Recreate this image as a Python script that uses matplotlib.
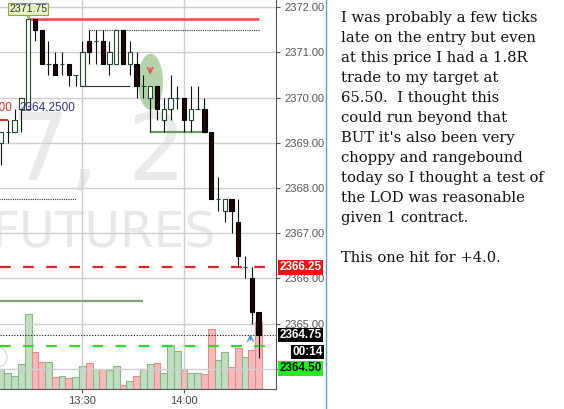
import numpy as np
import matplotlib
matplotlib.use('Agg')
import matplotlib.pyplot as plt
import matplotlib.transforms as mtransforms
from matplotlib.patches import Ellipse
from matplotlib.lines import Line2D

# ES 2 minute bars (13:06 .. 14:22)
opens = [2369.00, 2369.25, 2369.25, 2369.75, 2369.75, 2371.75, 2371.50, 2370.75, 2370.75, 2370.75,
         2370.75, 2370.50, 2370.25, 2371.25, 2371.25, 2371.25, 2370.75, 2370.75, 2371.50, 2370.75,
         2370.75, 2370.25, 2370.00, 2370.25, 2369.50, 2369.75, 2370.00, 2370.00, 2369.50, 2369.75,
         2369.75, 2369.25, 2367.75, 2367.50, 2367.75, 2367.25, 2366.25, 2366.00, 2365.25]
highs = [2369.25, 2369.50, 2369.75, 2370.00, 2371.75, 2371.75, 2371.50, 2371.25, 2371.00, 2371.00,
         2370.75, 2370.50, 2371.25, 2371.50, 2371.50, 2371.50, 2371.25, 2371.50, 2371.50, 2371.25,
         2371.00, 2370.50, 2370.25, 2370.25, 2370.00, 2370.50, 2370.25, 2370.00, 2370.25, 2370.25,
         2370.00, 2369.25, 2368.25, 2367.75, 2367.75, 2367.75, 2366.50, 2366.25, 2365.25]
lows = [2368.50, 2369.00, 2369.25, 2369.25, 2369.75, 2371.25, 2370.75, 2370.50, 2370.50, 2370.50,
        2370.25, 2370.25, 2370.25, 2370.75, 2370.75, 2370.75, 2370.50, 2370.75, 2370.75, 2370.50,
        2370.00, 2370.00, 2369.25, 2369.50, 2369.25, 2369.50, 2369.75, 2369.25, 2369.25, 2369.75,
        2369.25, 2367.75, 2367.50, 2367.25, 2367.00, 2366.25, 2366.00, 2365.00, 2364.25]
closes = [2369.25, 2369.25, 2369.50, 2370.00, 2371.75, 2371.50, 2370.75, 2370.75, 2370.50, 2370.75,
          2370.50, 2370.50, 2371.00, 2371.00, 2371.25, 2370.75, 2371.00, 2371.50, 2370.75, 2371.00,
          2370.25, 2370.25, 2370.25, 2369.75, 2369.75, 2370.00, 2370.00, 2369.50, 2369.75, 2369.75,
          2369.25, 2367.75, 2367.75, 2367.75, 2367.50, 2366.50, 2366.25, 2365.25, 2364.75]
volume = [200, 160, 130, 250, 750, 370, 270, 270, 120, 130,
          110, 120, 230, 260, 200, 200, 190, 230, 40, 80,
          130, 200, 250, 260, 160, 440, 380, 190, 160, 160,
          150, 600, 290, 370, 220, 410, 320, 390, 670]

time_ticks = [12, 27]
time_labels = ['13:30', '14:00']
price_ticks = [2364, 2365, 2366, 2367, 2368, 2369, 2370, 2371, 2372]

# drawn levels: (first bar, last bar, price)
high_line = (4, 38, 2371.75)
top_range = (13, 38, 2371.50)
mid_range = (12, 19, 2370.25)
low_range = (22, 30, 2369.25)
left_level = (-1, 11, 2367.75)
target_line = (-1, 21, 2365.50)
entry_tag = (-1, 1, 2369.50)
stop_price = 2366.25
last_price = 2364.75
bid_price = 2364.50
countdown = '00:14'
session_high = 2371.75

note_lines = ["I was probably a few ticks",
              "late on the entry but even",
              "at this price I had a 1.8R",
              "trade to my target at",
              "65.50.  I thought this",
              "could run beyond that",
              "BUT it's also been very",
              "choppy and rangebound",
              "today so I thought a test of",
              "the LOD was reasonable",
              "given 1 contract.",
              "",
              "This one hit for +4.0."]

x = np.arange(len(opens))
o = np.array(opens); c = np.array(closes)
up = c >= o

W, H = 564, 409
fig = plt.figure(figsize=(W / 100, H / 100), dpi=100)
rect = [0, 20 / H, 276 / W, 389 / H]
ax_vol = fig.add_axes(rect)
ax = fig.add_axes(rect)
ax.set_zorder(2)
ax.patch.set_alpha(0)

# volume overlay at the bottom of the price panel
ax_vol.bar(x, volume, width=1.0,
           color=np.where(up, '#bfdfbf', '#f8b9b9'),
           edgecolor=np.where(up, '#86b886', '#e58d8d'), lw=0.8, zorder=2)
ax_vol.set_ylim(0, 3890)
ax_vol.set_xlim(-0.15, 40.56)
ax_vol.axis('off')
ax_vol.text(186 / 276, 1 - 180 / 389, '7, 2', transform=ax_vol.transAxes, ha='right',
            va='baseline', fontsize=66, color='#eaeaea', zorder=0)
ax_vol.text(216 / 276, 1 - 248 / 389, 'FUTURES', transform=ax_vol.transAxes, ha='right',
            va='baseline', fontsize=35, color='#e8e8e8', zorder=0)

ax.set_xlim(-0.15, 40.56)
ax.set_ylim(2363.555, 2372.16)
ax.grid(color='#cfcfcf', lw=1)
ax.set_axisbelow(True)

# setup marker
ax.add_patch(Ellipse((22.05, 2370.35), 3.7, 1.24, fc='#a3c994', ec='none', alpha=0.8, zorder=1))

for (a, b, p), col, lw, ls in [(high_line, '#e25d5d', 2.0, '-'),
                              (top_range, '#333333', 0.8, (0, (1, 1))),
                              (mid_range, '#333333', 0.8, '-'),
                              (low_range, '#6a9e62', 1.6, '-'),
                              (left_level, '#333333', 0.8, (0, (1, 1))),
                              (target_line, '#7aa66f', 1.6, '-'),
                              (entry_tag, '#e03030', 1.4, '-')]:
    ax.plot([a, b], [p, p], color=col, lw=lw, ls=ls, zorder=2, solid_capstyle='butt')

ax.axhline(stop_price, color='#e52222', lw=1.6, dashes=(4.8, 5.6), zorder=2)
ax.axhline(bid_price, color='#2bdc2b', lw=1.6, dashes=(4.8, 5.6), zorder=2)
ax.axhline(last_price, color='#111111', lw=0.8, ls=(0, (1, 1.5)), zorder=2)

# candles
ax.vlines(x, lows, highs, color='#111111', lw=0.8, zorder=3)
body_lo = np.minimum(o, c)
body_h = np.abs(c - o)
ax.bar(x, body_h, bottom=body_lo, width=0.64,
       color=np.where(up, 'white', '#1d0808'),
       edgecolor=np.where(up, '#23472a', '#000000'), lw=0.8, zorder=4)

ax.annotate('', xy=(22, 2370.45), xytext=(22, 2370.72),
            arrowprops=dict(arrowstyle='->', color='#e05050', lw=1), zorder=5)
ax.annotate('', xy=(36.8, 2364.83), xytext=(36.8, 2364.58),
            arrowprops=dict(arrowstyle='->', color='#4a8fd8', lw=1), zorder=5)
ax.add_patch(Ellipse((-0.6, 2364.26), 3.0, 0.45, fc='white', ec='#d0d0d0', alpha=0.7, zorder=5))

ax.text(1.6, 2369.77, '2369.7500', ha='right', va='center', fontsize=8.5,
        family='Liberation Sans', color='#e03030', zorder=6)
ax.text(2.65, 2369.77, '2364.2500', ha='left', va='center', fontsize=8.5,
        family='Liberation Sans', color='#2e2e8a', zorder=6)

ax.plot(4, session_high + 0.07, marker='v', ms=5, color='#e9f2c4', mec='#8cab3c', mew=0.8, zorder=6)
ax.annotate(f'{session_high:.2f}', xy=(4, session_high), xytext=(0, 3.5), textcoords='offset points',
            ha='center', va='bottom', fontsize=7.6, family='Liberation Sans', color='#333333',
            bbox=dict(boxstyle='square,pad=0.1', fc='#e9f2c4', ec='#8cab3c', lw=0.8),
            zorder=7, annotation_clip=False)

ax.yaxis.tick_right()
# the 2364.00 label sits under the bid tag, as on the screen
ax.set_yticks(price_ticks, ['' if p == 2364 else f'{p:.2f}' for p in price_ticks])
ax.set_xticks(time_ticks, time_labels)
ax.tick_params(axis='y', length=3, color='#555555', labelcolor='#555555', labelsize=8, pad=3)
ax.tick_params(axis='x', length=3, color='#555555', labelcolor='#444444', labelsize=8, pad=2)
for lab in ax.get_xticklabels() + ax.get_yticklabels():
    lab.set_family('Liberation Sans')
for s in ['top', 'left']:
    ax.spines[s].set_visible(False)
for s in ['right', 'bottom']:
    ax.spines[s].set_color('#555555')

trans = mtransforms.blended_transform_factory(ax.transAxes, ax.transData)


def price_tag(txt, price, face, fg, dy=0, right=False):
    xo = 33.5 if right else 2.5
    ax.annotate(txt, xy=(1.0, price), xycoords=trans, xytext=(xo, dy), textcoords='offset points',
                ha='right' if right else 'left', va='center', fontsize=8.5, fontweight='bold',
                family='Liberation Sans', color=fg,
                bbox=dict(boxstyle='square,pad=0.12', fc=face, ec='none'),
                zorder=10, annotation_clip=False)


price_tag(f'{stop_price:.2f}', stop_price, '#ee1111', 'white')
price_tag(f'{last_price:.2f}', last_price, '#000000', 'white')
price_tag(countdown, last_price, '#000000', 'white', dy=-12.2, right=True)
price_tag(f'{bid_price:.2f}', last_price, '#22ee22', '#111111', dy=-24)

fig.add_artist(Line2D([325.5 / W] * 2, [0, 1], color='#5a9bd5', lw=1))

for i, line in enumerate(note_lines):
    fig.text(341 / W, 1 - (21.7 + 20 * i) / H, line, ha='left', va='baseline',
             fontsize=10.6, family='DejaVu Serif', color='#111111')

fig.savefig('out.png', dpi=100)
